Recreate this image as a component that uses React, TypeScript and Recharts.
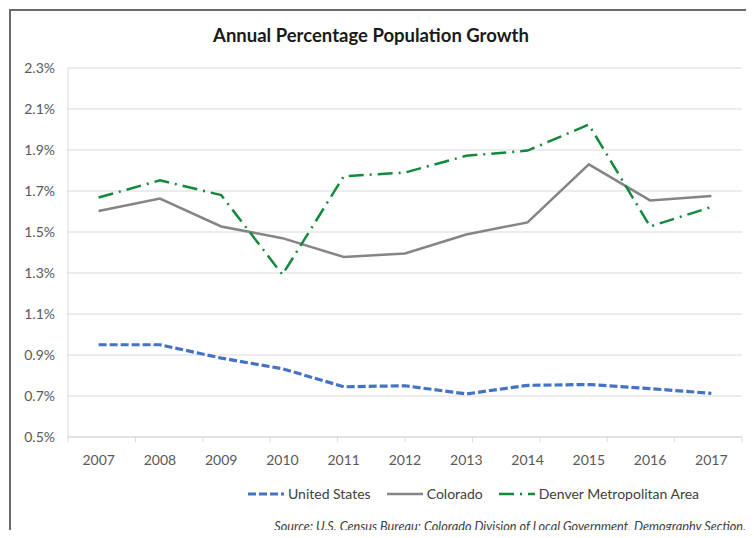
import { LineChart, Line, XAxis, YAxis, CartesianGrid } from 'recharts'

const years = ['2007', '2008', '2009', '2010', '2011', '2012', '2013', '2014', '2015', '2016', '2017']
const unitedStates = [0.95, 0.95, 0.885, 0.833, 0.745, 0.75, 0.71, 0.752, 0.756, 0.736, 0.713]
const colorado = [1.602, 1.663, 1.527, 1.47, 1.378, 1.395, 1.488, 1.547, 1.83, 1.654, 1.676]
const denver = [1.668, 1.752, 1.68, 1.292, 1.772, 1.79, 1.872, 1.897, 2.024, 1.527, 1.622]
const yTicks = [0.5, 0.7, 0.9, 1.1, 1.3, 1.5, 1.7, 1.9, 2.1, 2.3]
const boundaryTicks = [0, 1, 2, 3, 4, 5, 6, 7, 8, 9, 10, 11]

const series = [
  { key: 'us', name: 'United States', color: '#4472c4', width: 3.2, dash: '8 3' },
  { key: 'co', name: 'Colorado', color: '#858585', width: 2.5, dash: undefined },
  { key: 'den', name: 'Denver Metropolitan Area', color: '#13893b', width: 2.5, dash: '15 6 2 6' },
]

const data = years.map((y, i) => ({ year: y, us: unitedStates[i], co: colorado[i], den: denver[i] }))

const axisGrey = '#d9d9d9'
const labelGrey = '#595959'

function LegendRow() {
  return (
    <div
      style={{
        position: 'absolute',
        left: 248,
        top: 485,
        display: 'flex',
        alignItems: 'center',
        fontSize: 14,
        color: '#404040',
        whiteSpace: 'nowrap',
      }}
    >
      {series.map((s, i) => (
        <div key={s.key} style={{ display: 'flex', alignItems: 'center', marginRight: i < 2 ? 16 : 0 }}>
          <svg width={36} height={10} style={{ marginRight: 4 }}>
            <line
              x1={0}
              y1={5}
              x2={36}
              y2={5}
              stroke={s.color}
              strokeWidth={s.width}
              strokeDasharray={s.dash}
            />
          </svg>
          <span>{s.name}</span>
        </div>
      ))}
    </div>
  )
}

export default function App() {
  return (
    <div
      style={{
        position: 'relative',
        width: 754,
        height: 538,
        margin: -8,
        background: '#fff',
        overflow: 'hidden',
        fontFamily: 'Lato, "Open Sans", sans-serif',
      }}
    >
      <div
        style={{
          position: 'absolute',
          left: 9,
          top: 9,
          right: -10,
          bottom: -10,
          borderLeft: '2px solid #6b6b6b',
          borderTop: '2px solid #6b6b6b',
        }}
      />
      <div
        style={{
          position: 'absolute',
          left: 0,
          width: 742,
          top: 24,
          textAlign: 'center',
          fontSize: 18.5,
          fontWeight: 700,
          color: '#1a1a1a',
        }}
      >
        Annual Percentage Population Growth
      </div>
      <div style={{ position: 'absolute', left: 0, top: 0 }}>
        <LineChart width={754} height={538} data={data} margin={{ top: 68, right: 12, bottom: 71, left: 8 }}>
          <CartesianGrid vertical={false} stroke={axisGrey} xAxisId={1} />
          <XAxis
            xAxisId={0}
            type="number"
            domain={[0, 11]}
            ticks={boundaryTicks}
            interval={0}
            tick={() => <g />}
            tickSize={5}
            tickLine={{ stroke: axisGrey }}
            axisLine={{ stroke: axisGrey }}
            height={1}
          />
          <XAxis
            xAxisId={1}
            dataKey="year"
            scale="band"
            height={29}
            axisLine={false}
            tickLine={false}
            tickSize={6}
            tickMargin={11}
            tick={{ fontSize: 14, fill: labelGrey }}
          />
          <YAxis
            domain={[0.5, 2.3]}
            ticks={yTicks}
            width={60}
            axisLine={{ stroke: axisGrey }}
            tickLine={false}
            tickMargin={7}
            tick={{ fontSize: 14, fill: labelGrey }}
            tickFormatter={(v: number) => v.toFixed(1) + '%'}
          />
          <YAxis
            yAxisId="right"
            orientation="right"
            domain={[0.5, 2.3]}
            width={0}
            tick={false}
            tickLine={false}
            axisLine={{ stroke: axisGrey }}
          />
          {series.map((s) => (
            <Line
              key={s.key}
              xAxisId={1}
              dataKey={s.key}
              name={s.name}
              type="linear"
              stroke={s.color}
              strokeWidth={s.width}
              strokeDasharray={s.dash}
              dot={false}
              activeDot={false}
              isAnimationActive={false}
            />
          ))}
        </LineChart>
      </div>
      <LegendRow />
      <div
        style={{
          position: 'absolute',
          right: 8,
          top: 519,
          fontSize: 12.7,
          lineHeight: '15px',
          fontStyle: 'italic',
          color: '#404040',
          whiteSpace: 'nowrap',
        }}
      >
        Source: U.S. Census Bureau; Colorado Division of Local Government, Demography Section.
      </div>
    </div>
  )
}
